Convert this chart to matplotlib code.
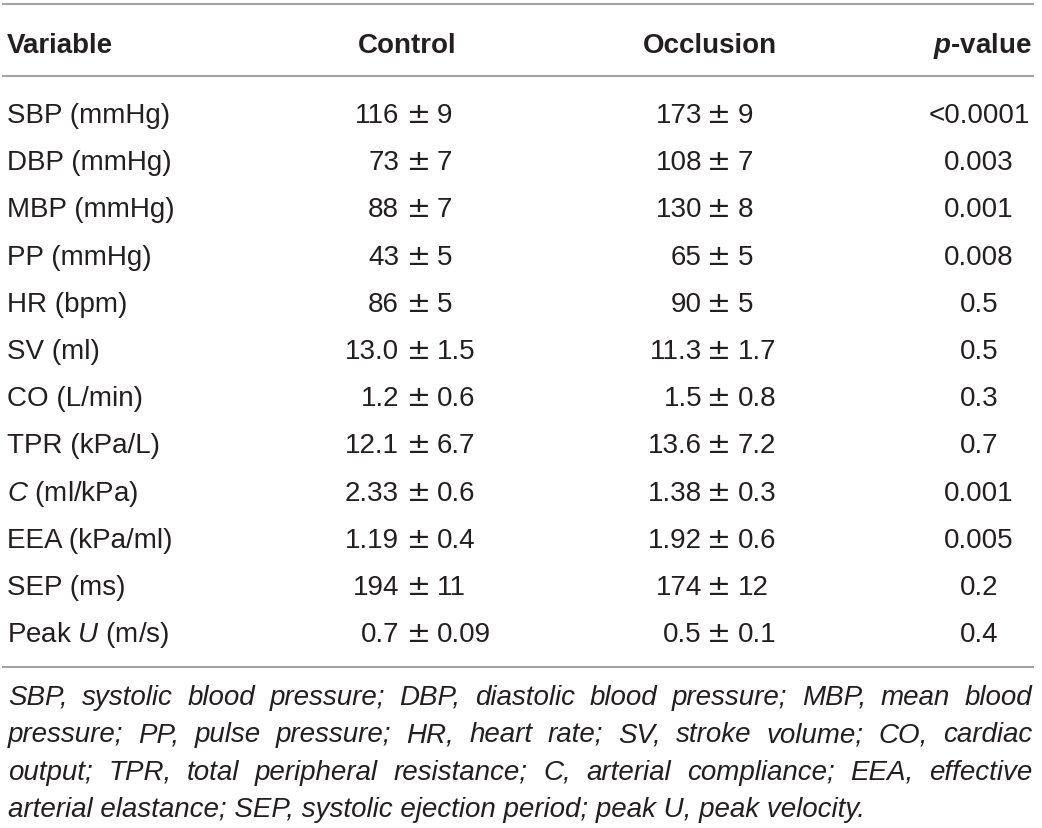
import matplotlib
matplotlib.use("Agg")
import matplotlib.pyplot as plt

plt.rcParams['font.family'] = ['Liberation Sans', 'DejaVu Sans']
plt.rcParams['mathtext.fontset'] = 'custom'
plt.rcParams['mathtext.rm'] = 'Liberation Sans'
plt.rcParams['mathtext.it'] = 'Liberation Sans:italic'
plt.rcParams['mathtext.bf'] = 'Liberation Sans:bold'
plt.rcParams['mathtext.bfit'] = 'Liberation Sans:italic:bold'

# ---------------- data ----------------
headers = ["Variable", "Control", "Occlusion", r"$\mathbfit{p}$-value"]
variables = ["SBP (mmHg)", "DBP (mmHg)", "MBP (mmHg)", "PP (mmHg)", "HR (bpm)",
             "SV (ml)", "CO (L/min)", "TPR (kPa/L)", r"$\mathit{C}$ (ml/kPa)",
             "EEA (kPa/ml)", "SEP (ms)", r"Peak $\mathit{U}$ (m/s)"]
control_mean = ["116", "73", "88", "43", "86", "13.0", "1.2", "12.1", "2.33", "1.19", "194", "0.7"]
control_sd = ["9", "7", "7", "5", "5", "1.5", "0.6", "6.7", "0.6", "0.4", "11", "0.09"]
occlusion_mean = ["173", "108", "130", "65", "90", "11.3", "1.5", "13.6", "1.38", "1.92", "174", "0.5"]
occlusion_sd = ["9", "7", "8", "5", "5", "1.7", "0.8", "7.2", "0.3", "0.6", "12", "0.1"]
p_values = ["<0.0001", "0.003", "0.001", "0.008", "0.5", "0.5", "0.3", "0.7",
            "0.001", "0.005", "0.2", "0.4"]
footnote_lines = [
    "SBP, systolic blood pressure; DBP, diastolic blood pressure; MBP, mean blood",
    "pressure; PP, pulse pressure; HR, heart rate; SV, stroke volume; CO, cardiac",
    "output; TPR, total peripheral resistance; C, arterial compliance; EEA, effective",
    "arterial elastance; SEP, systolic ejection period; peak U, peak velocity.",
]

# ---------------- layout ----------------
W, H = 1042, 829
TXT = "#231f20"
LINE = "#a3a3a3"
FS = 20

fig = plt.figure(figsize=(W / 100, H / 100), dpi=100)
ax = fig.add_axes([0, 0, 1, 1])
ax.set_xlim(0, W)
ax.set_ylim(H, 0)
ax.axis('off')

# rules
for y in (5, 77, 668):
    ax.plot([2, 1034], [y, y], color=LINE, lw=1.5, solid_capstyle='butt')

# header
hy = 53
ax.text(7, hy, headers[0], fontsize=FS, fontweight='bold', color=TXT, ha='left', va='baseline')
ax.text(407, hy, headers[1], fontsize=FS, fontweight='bold', color=TXT, ha='center', va='baseline')
ax.text(710, hy, headers[2], fontsize=FS, fontweight='bold', color=TXT, ha='center', va='baseline')
ax.text(1032, hy, headers[3], fontsize=FS, fontweight='bold', color=TXT, ha='right', va='baseline')


def pm_cell(y, xr_mean, x_pm, x_sd, mean, sd):
    ax.text(xr_mean, y, mean, fontsize=FS, color=TXT, ha='right', va='baseline')
    ax.text(x_pm, y, "\u00b1", fontsize=20.5, family='DejaVu Sans', color=TXT,
            ha='center', va='baseline')
    ax.text(x_sd, y, sd, fontsize=FS, color=TXT, ha='left', va='baseline')


# body rows
y0, dy = 123, 47.2
for i in range(len(variables)):
    y = y0 + dy * i
    ax.text(7, y, variables[i], fontsize=FS, color=TXT, ha='left', va='baseline')
    pm_cell(y, 399, 419, 437, control_mean[i], control_sd[i])
    pm_cell(y, 702, 719, 738, occlusion_mean[i], occlusion_sd[i])
    ax.text(979, y, p_values[i], fontsize=FS, color=TXT, ha='center', va='baseline')

# footnote (justified italic)
renderer = fig.canvas.get_renderer()
FFS = 20
fy0, fdy = 705, 37.3
xl, xr = 8, 1032
for li, line in enumerate(footnote_lines):
    y = fy0 + fdy * li
    if li == len(footnote_lines) - 1:
        ax.text(xl, y, line, fontsize=FFS, style='italic', color=TXT, ha='left', va='baseline')
        continue
    words = line.split(" ")
    arts = []
    widths = []
    for w in words:
        t = ax.text(0, y, w, fontsize=FFS, style='italic', color=TXT, ha='left', va='baseline')
        bb = t.get_window_extent(renderer)
        arts.append(t)
        widths.append(bb.width)
    gap = (xr - xl - sum(widths)) / (len(words) - 1)
    x = xl
    for t, wdt in zip(arts, widths):
        t.set_x(x)
        x += wdt + gap

fig.savefig("out.png", dpi=100)
